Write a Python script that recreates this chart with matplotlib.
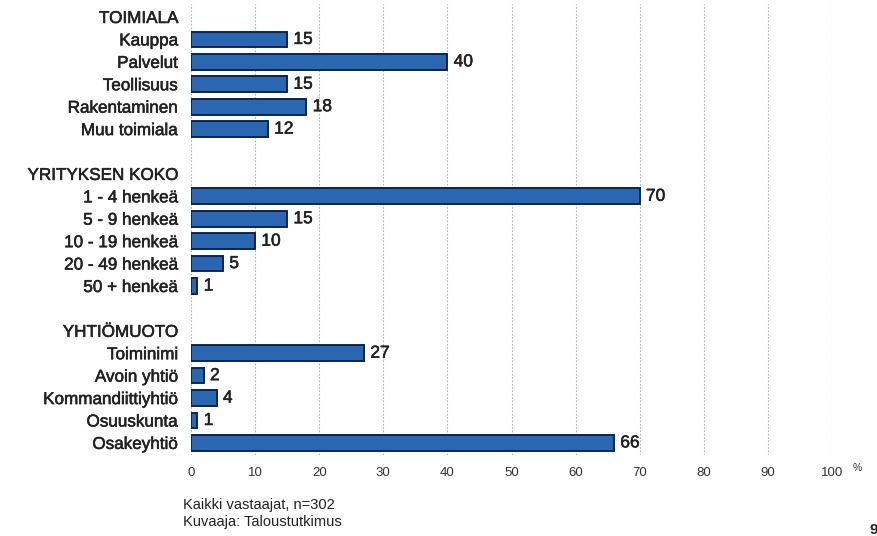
import matplotlib
matplotlib.use("Agg")
import matplotlib.pyplot as plt
import matplotlib.patheffects as pe

plt.rcParams["font.family"] = ["Liberation Sans", "DejaVu Sans"]

# Survey breakdown, % of respondents
toimiala = ["Kauppa", "Palvelut", "Teollisuus", "Rakentaminen", "Muu toimiala"]
toimiala_pct = [15, 40, 15, 18, 12]
koko = ["1 - 4 henkeä", "5 - 9 henkeä", "10 - 19 henkeä", "20 - 49 henkeä", "50 + henkeä"]
koko_pct = [70, 15, 10, 5, 1]
muoto = ["Toiminimi", "Avoin yhtiö", "Kommandiittiyhtiö", "Osuuskunta", "Osakeyhtiö"]
muoto_pct = [27, 2, 4, 1, 66]
groups = [("TOIMIALA", toimiala, toimiala_pct),
          ("YRITYKSEN KOKO", koko, koko_pct),
          ("YHTIÖMUOTO", muoto, muoto_pct)]
xticks = list(range(0, 101, 10))

# lay out rows: header, items, blank spacer between groups
labels, values = [], []
for i, (head, cats, vals) in enumerate(groups):
    if i > 0:
        labels.append(""); values.append(None)
    labels.append(head); values.append(None)
    labels.extend(cats); values.extend(vals)
ypos = list(range(len(labels)))

thick = [pe.withStroke(linewidth=0.4, foreground="#222222")]

fig = plt.figure(figsize=(8.77, 5.36), dpi=100)
ax = fig.add_axes([191 / 877, 1 - 455 / 536, (832 - 191) / 877, (455 - 4) / 536])

for y, v in zip(ypos, values):
    if v is None:
        continue
    ax.barh(y, v, height=0.7, color="#2b67b1", edgecolor="#0c2552", linewidth=1.4, zorder=3)
    ax.annotate(str(v), (v, y), xytext=(4.5, 0), textcoords="offset points",
                va="center", ha="left", fontsize=12.5, color="#222222", path_effects=thick)

ax.set_xlim(0, 100)
ax.set_ylim(len(labels) - 1 + 0.54, -0.58)
ax.set_yticks(ypos)
ax.set_yticklabels(labels, fontsize=12.3, color="#222222")
for t in ax.get_yticklabels():
    t.set_path_effects(thick)
ax.set_xticks(xticks)
ax.set_xticklabels([str(t) for t in xticks], fontsize=9.5,
                   family=["Liberation Sans Narrow", "Liberation Sans", "DejaVu Sans"],
                   color="#333333")
ax.tick_params(axis="both", length=0)
ax.tick_params(axis="y", pad=9)
ax.tick_params(axis="x", pad=9)
ax.grid(axis="x", color="#b0b0b0", linestyle=(0, (1.5, 1.5)), linewidth=0.8, zorder=0)
for s in ax.spines.values():
    s.set_visible(False)

fig.text(857 / 877, 1 - 468 / 536, "%", fontsize=7.5, color="#333333", ha="center", va="center")
narrow = ["Liberation Sans Narrow", "Liberation Sans", "DejaVu Sans"]
fig.text(183 / 877, 1 - 505 / 536, "Kaikki vastaajat, n=302", fontsize=10.5,
         family=narrow, color="#222222", va="center")
fig.text(183 / 877, 1 - 522 / 536, "Kuvaaja: Taloustutkimus", fontsize=10.5,
         family=narrow, color="#222222", va="center")
fig.text(869 / 877, 1 - 530 / 536, "9", fontsize=11, fontweight="bold",
         color="#222222", va="center", ha="left")

fig.savefig("out.png", dpi=100)
